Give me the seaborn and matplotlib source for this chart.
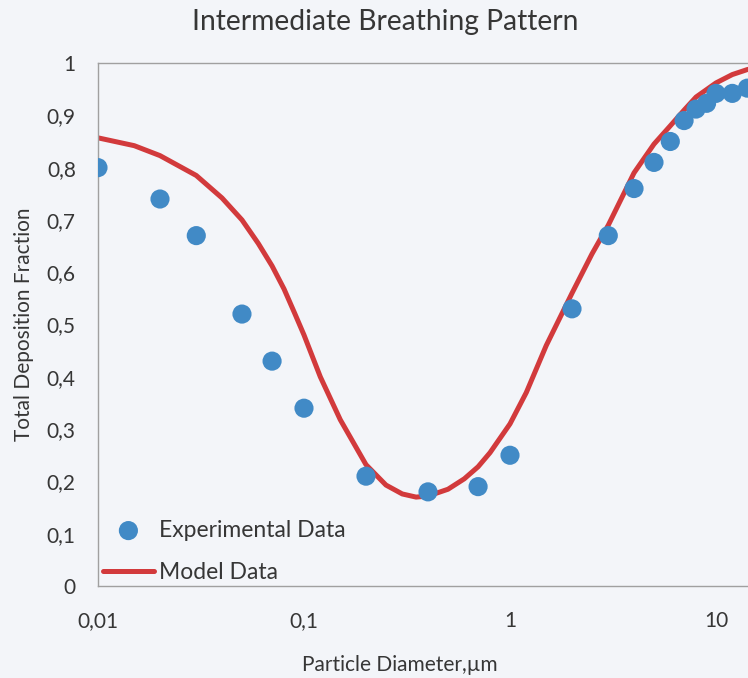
import matplotlib
matplotlib.use("Agg")
import matplotlib.pyplot as plt
import seaborn as sns
import pandas as pd
from matplotlib.ticker import FixedLocator, FixedFormatter, NullLocator

exp_diameter = [0.01, 0.02, 0.03, 0.05, 0.07, 0.1, 0.2, 0.4, 0.7, 1.0,
                2.0, 3.0, 4.0, 5.0, 6.0, 7.0, 8.0, 9.0, 10.0, 12.0, 14.2]
exp_fraction = [0.80, 0.74, 0.67, 0.52, 0.43, 0.34, 0.21, 0.18, 0.19, 0.25,
                0.53, 0.67, 0.76, 0.81, 0.85, 0.89, 0.912, 0.923, 0.942, 0.942, 0.952]

# Model data
model_diameter = [0.01, 0.015, 0.02, 0.03, 0.04, 0.05, 0.06, 0.07, 0.08, 0.09,
                  0.1, 0.12, 0.15, 0.2, 0.25, 0.3, 0.35, 0.4, 0.5, 0.6, 0.7,
                  0.8, 1.0, 1.2, 1.5, 2.0, 2.5, 3.0, 4.0, 5.0, 6.0, 7.0, 8.0,
                  10.0, 12.0, 14.3]
model_fraction = [0.857, 0.842, 0.823, 0.785, 0.742, 0.70, 0.655, 0.612, 0.568, 0.522,
                  0.48, 0.40, 0.318, 0.232, 0.193, 0.176, 0.170, 0.172, 0.185, 0.205, 0.228,
                  0.255, 0.31, 0.37, 0.46, 0.56, 0.635, 0.69, 0.79, 0.845, 0.88, 0.91, 0.935,
                  0.962, 0.978, 0.988]

x_ticks = [0.01, 0.1, 1, 10]
x_tick_labels = ["0,01", "0,1", "1", "10"]
y_ticks = [0, 0.1, 0.2, 0.3, 0.4, 0.5, 0.6, 0.7, 0.8, 0.9, 1.0]
y_tick_labels = ["0", "0,1", "0,2", "0,3", "0,4", "0,5", "0,6", "0,7", "0,8", "0,9", "1"]

sns.set_style("white")
plt.rcParams["font.family"] = ["Lato", "DejaVu Sans"]

txt = "#363636"
bg = "#f3f5f9"
fig = plt.figure(figsize=(7.48, 6.78), dpi=100, facecolor=bg)
ax = fig.add_axes([0.131, 0.1357, 0.869, 0.7713])
ax.set_facecolor(bg)

exp_df = pd.DataFrame({"d": exp_diameter, "f": exp_fraction})
mod_df = pd.DataFrame({"d": model_diameter, "f": model_fraction})

sns.lineplot(data=mod_df, x="d", y="f", ax=ax, color="#d23a3c", linewidth=3.6,
             label="Model Data", zorder=2, sort=False)
sns.scatterplot(data=exp_df, x="d", y="f", ax=ax, color="#418ac6", s=190,
                edgecolor="none", label="Experimental Data", zorder=3)

ax.set_xscale("log")
ax.set_xlim(0.01, 14.3)
ax.set_ylim(0, 1)
ax.xaxis.set_major_locator(FixedLocator(x_ticks))
ax.xaxis.set_major_formatter(FixedFormatter(x_tick_labels))
ax.xaxis.set_minor_locator(NullLocator())
ax.yaxis.set_major_locator(FixedLocator(y_ticks))
ax.yaxis.set_major_formatter(FixedFormatter(y_tick_labels))
ax.tick_params(axis="both", length=0, labelsize=15, colors=txt)
ax.tick_params(axis="y", pad=16)
ax.tick_params(axis="x", pad=18)

for side in ["left", "bottom", "top"]:
    ax.spines[side].set_color("#a0a0a0")
    ax.spines[side].set_linewidth(1.0)
ax.spines["right"].set_visible(False)

ax.set_xlabel("")
fig.text(400 / 748, 1 - 665 / 678, "Particle Diameter,\u00b5m", fontsize=15,
         color=txt, ha="center", va="center")
ax.set_ylabel("Total Deposition Fraction", fontsize=15, color=txt, labelpad=9)
fig.text(385 / 748, 1 - 22 / 678, "Intermediate Breathing Pattern", fontsize=20.3,
         color=txt, ha="center", va="center")

handles, labels = ax.get_legend_handles_labels()
order = [labels.index("Experimental Data"), labels.index("Model Data")]
leg = ax.legend([handles[i] for i in order], [labels[i] for i in order],
                loc="lower left", bbox_to_anchor=(0.008, 0.005), frameon=False,
                fontsize=16.5, handlelength=2.2, handletextpad=0.23,
                labelspacing=0.95, borderaxespad=0.0, borderpad=0.0,
                labelcolor=txt)

fig.savefig("out.png", dpi=100, facecolor=bg)
